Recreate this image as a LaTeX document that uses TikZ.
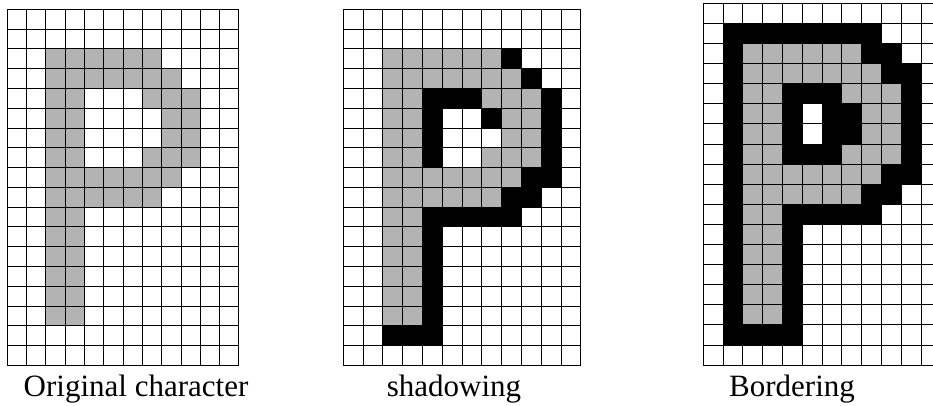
\documentclass[tikz,border=0pt]{standalone}
\usepackage{fontspec}
\setmainfont{Liberation Serif}
\usepackage{xcolor}
\usepackage{tikz}
\usetikzlibrary{positioning}
\definecolor{pgray}{RGB}{179,179,179}
% gray strokes of the letter: row/first col/last col
\newcommand{\pspans}{2/2/7,3/2/8,4/2/3,4/7/9,5/2/3,5/8/9,6/2/3,6/8/9,7/2/3,7/7/9,8/2/8,9/2/7,10/2/3,11/2/3,12/2/3,13/2/3,14/2/3,15/2/3}
\newcommand{\shadowspans}{2/8/8,3/9/9,4/4/6,4/10/10,5/4/4,5/7/7,5/10/10,6/4/4,6/10/10,7/4/4,7/10/10,8/9/10,9/8/9,10/4/8,11/4/4,12/4/4,13/4/4,14/4/4,15/4/4,16/2/4}
\newcommand{\borderspans}{1/1/8,2/1/1,2/8/9,3/1/1,3/9/10,4/1/1,4/4/6,4/10/10,5/1/1,5/4/4,5/6/7,5/10/10,6/1/1,6/4/4,6/6/7,6/10/10,7/1/1,7/4/6,7/10/10,8/1/1,8/9/10,9/1/1,9/8/9,10/1/1,10/4/8,11/1/1,11/4/4,12/1/1,12/4/4,13/1/1,13/4/4,14/1/1,14/4/4,15/1/1,15/4/4,16/1/4}

\begin{document}
\begin{tikzpicture}[x=1pt, y=1pt,
  gridline/.style={line width=0.9pt, black},
  lbl/.style={anchor=base, inner sep=0pt, font=\fontsize{31}{37}\selectfont}]
\clip (0,0) rectangle (933,405);
\fill[white] (0,0) rectangle (933,405);
% Original character
\begin{scope}[shift={(7.3pt,395.7pt)}, x=19.3pt, y=-19.78pt]
  \foreach \r/\a/\b in \pspans
    \fill[pgray] (\a,\r) rectangle (\b+1,\r+1);
  \foreach \c in {0,...,12} \draw[gridline] (\c,0) -- (\c,18);
  \foreach \r in {0,...,18} \draw[gridline] (0,\r) -- (12,\r);
\end{scope}
% shadowing
\begin{scope}[shift={(343.3pt,395.7pt)}, x=19.8pt, y=-19.78pt]
  \foreach \r/\a/\b in \pspans
    \fill[pgray] (\a,\r) rectangle (\b+1,\r+1);
  \foreach \r/\a/\b in \shadowspans
    \fill[black] (\a,\r) rectangle (\b+1,\r+1);
  \foreach \c in {0,...,12} \draw[gridline] (\c,0) -- (\c,18);
  \foreach \r in {0,...,18} \draw[gridline] (0,\r) -- (12,\r);
\end{scope}
% Bordering
\begin{scope}[shift={(703.3pt,401.7pt)}, x=19.8pt, y=-20.1pt]
  \foreach \r/\a/\b in \pspans
    \fill[pgray] (\a,\r) rectangle (\b+1,\r+1);
  \foreach \r/\a/\b in \borderspans
    \fill[black] (\a,\r) rectangle (\b+1,\r+1);
  \foreach \c in {0,...,12} \draw[gridline] (\c,0) -- (\c,18);
  \foreach \r in {0,...,18} \draw[gridline] (0,\r) -- (12,\r);
\end{scope}
\node[lbl] (origlbl) at (136,9) {Original character};
\node[lbl] (shadowlbl) at (454,9) {shadowing};
\node[lbl] (borderlbl) at (792,9) {Bordering};
\end{tikzpicture}
\end{document}
